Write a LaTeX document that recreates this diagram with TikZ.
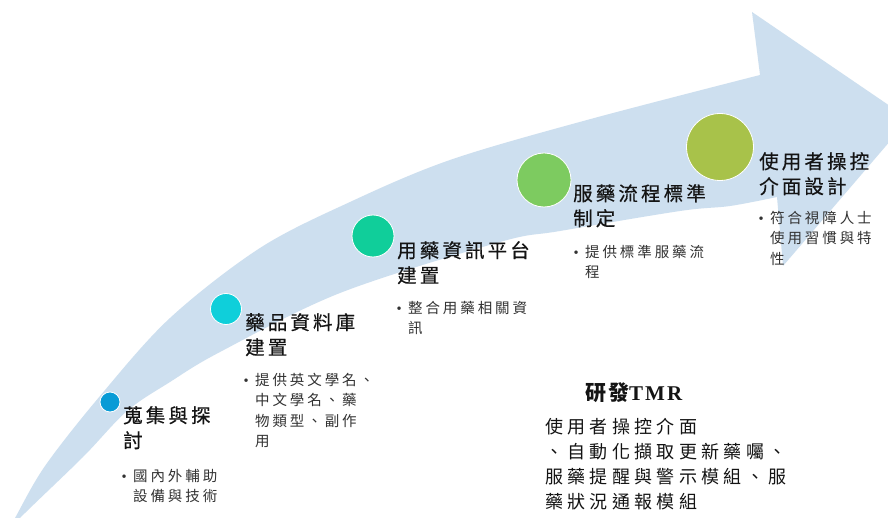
\documentclass[tikz,border=0pt]{standalone}
\usepackage{fontspec}
\newfontfamily\cjkT[LetterSpace=16,FakeBold=0.45]{Noto Sans CJK TC}
\newfontfamily\cjkH[LetterSpace=6]{Noto Sans CJK TC}
\newfontfamily\cjkB[LetterSpace=20]{Noto Sans CJK TC}
\newfontfamily\cjkM[LetterSpace=24]{Noto Sans CJK TC}
\newfontfamily\serifTMR[LetterSpace=10]{Liberation Serif}
\newfontfamily\serifBul{Liberation Serif}
\definecolor{bandcol}{RGB}{205,223,239}
\definecolor{cA}{RGB}{8,155,214}
\definecolor{cB}{RGB}{15,207,218}
\definecolor{cC}{RGB}{16,206,154}
\definecolor{cD}{RGB}{125,203,96}
\definecolor{cE}{RGB}{168,194,74}
\definecolor{titlecol}{RGB}{20,20,20}
\definecolor{bulcol}{RGB}{50,50,50}
\newcommand{\bul}{\llap{{\serifBul\textbullet}\hspace{6.5pt}}}
\begin{document}
\begin{tikzpicture}[x=1pt,y=-1pt,
  dot/.style={circle, draw=white, line width=0.8pt, inner sep=0pt},
  ttl/.style={anchor=north west, align=left, inner sep=0pt, text=titlecol,
    font=\cjkT\fontsize{19.5}{25}\selectfont},
  bultxt/.style={anchor=north west, align=left, inner sep=0pt, text=bulcol,
    font=\cjkB\fontsize{14.5}{20.5}\selectfont},
  bodytxt/.style={anchor=north west, align=left, inner sep=0pt, text=titlecol,
    font=\cjkM\fontsize{18}{25}\selectfont}]
\useasboundingbox (0,0) rectangle (888,518);
\fill[white] (0,0) rectangle (888,518);
\begin{scope}
\clip (0,0) rectangle (888,518);
\fill[bandcol] plot[smooth, tension=0.55] coordinates {(8,530) (15,518) (45,466) (100,396) (170,318) (260,248) (350,202) (450,160) (587,120) (760,75)}
  -- (752,12) -- (909,119) -- (783,266) -- (777,197)
  -- plot[smooth, tension=0.55] coordinates {(777,197) (730,206) (680,211) (560,231) (500,242) (340,293) (220,352) (170,382) (127,411) (83,457) (20,518) (12,530)}
  -- cycle;
\end{scope}
% circles
\node[dot, fill=cA, minimum size=20pt] (c1) at (110,402) {};
\node[dot, fill=cB, minimum size=31pt] (c2) at (226,309) {};
\node[dot, fill=cC, minimum size=42pt] (c3) at (373,236) {};
\node[dot, fill=cD, minimum size=54pt] (c4) at (544,180) {};
\node[dot, fill=cE, minimum size=67pt] (c5) at (720,147) {};
% titles
\node[ttl] (t1) at (123,406) {蒐集與探\\討};
\node[ttl] (t2) at (245,313) {藥品資料庫\\建置};
\node[ttl] (t3) at (397,241) {用藥資訊平台\\建置};
\node[ttl] (t4) at (573,184) {服藥流程標準\\制定};
\node[ttl] (t5) at (759,152) {使用者操控\\介面設計};
% bullets
\node[bultxt] (b1) at (133,469) {\bul 國內外輔助\\設備與技術};
\node[bultxt] (b2) at (255,373) {\bul 提供英文學名、\\中文學名、藥\\物類型、副作\\用};
\node[bultxt] (b3) at (408,301) {\bul 整合用藥相關資\\訊};
\node[bultxt] (b4) at (585,245) {\bul 提供標準服藥流\\程};
\node[bultxt] (b5) at (770,211) {\bul 符合視障人士\\使用習慣與特\\性};
% bottom
\node[inner sep=0pt, text=titlecol, font=\fontsize{21}{24}\selectfont] (tmr) at (634,393) {{\cjkH\bfseries 研發}{\serifTMR\bfseries TMR}};
\node[bodytxt] (body) at (545,418.5) {使用者操控介面\\、自動化擷取更新藥囑、\\服藥提醒與警示模組、服\\藥狀況通報模組};
\end{tikzpicture}
\end{document}
